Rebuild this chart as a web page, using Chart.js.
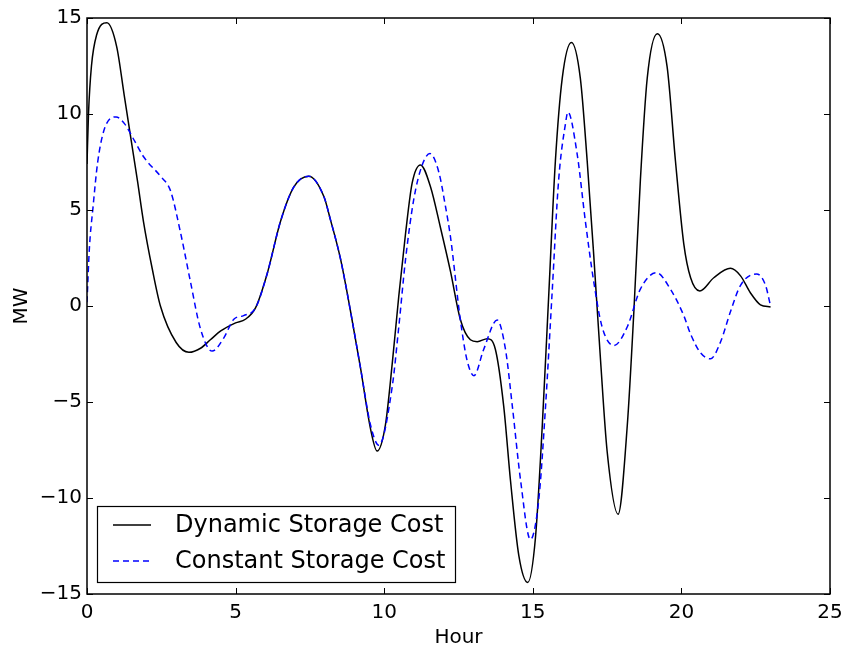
<!DOCTYPE html>
<html>
<head>
<meta charset="utf-8">
<title>Storage cost</title>
<script src="https://cdn.jsdelivr.net/npm/chart.js@4"></script>
<style>
    body { margin: 0; background: #fff; }
    #wrap { width: 845px; height: 650px; }
</style>
</head>
<body>
<div id="wrap"><canvas id="mwChart" width="845" height="650"></canvas></div>
<script>
// values (hour, MW)
const dynamicHours = [0, 0.05, 0.15, 0.32, 0.67, 1.0, 1.25, 1.5, 1.7, 1.9, 2.2, 2.47, 3.0, 3.43, 3.82, 4.15, 4.5, 5.0, 5.33, 5.67,
    6.06, 6.51, 6.96, 7.46, 7.97, 8.19, 8.53, 8.87, 9.2, 9.54, 9.76, 10.04, 10.27, 10.49, 10.72, 10.94, 11.22, 11.56, 11.89,
    12.23, 12.56, 12.9, 13.13, 13.47, 13.74, 14.02, 14.25, 14.53, 14.83, 15.09, 15.32, 15.54, 15.76, 15.99, 16.3, 16.6,
    16.83, 17.05, 17.28, 17.5, 17.87, 18.18, 18.4, 18.62, 18.85, 19.19, 19.52, 19.8, 20.08, 20.31, 20.62, 21.09, 21.65,
    21.99, 22.32, 22.66, 23.0];
const dynamicMW = [7.4, 10.0, 12.5, 14.1, 14.75, 13.5, 11.0, 8.5, 6.5, 4.4, 1.9, 0.0, -1.9, -2.41, -2.2, -1.76, -1.3, -0.88, -0.69, -0.1,
    1.67, 4.4, 6.2, 6.76, 5.7, 4.5, 2.45, -0.3, -3.2, -6.4, -7.55, -6.2, -3.0, 0.5, 3.8, 6.4, 7.35, 6.2, 4.1,
    1.8, -0.69, -1.76, -1.86, -1.7, -2.25, -5.2, -9.1, -13.0, -14.4, -12.06, -6.2, 0.69, 7.55, 11.86, 13.73, 11.86,
    7.55, 2.65, -2.84, -7.55, -10.84, -6.2, -0.3, 6.57, 11.86, 14.18, 12.45, 7.55, 3.24, 1.47, 0.78, 1.47, 1.96,
    1.57, 0.69, 0.06, -0.05];

const constantHours = [0, 0.08, 0.2, 0.36, 0.59, 0.98, 1.26, 1.6, 1.91, 2.47, 2.81, 3.15, 3.48, 3.82, 4.21, 4.6, 4.94, 5.27, 5.67,
    6.06, 6.51, 6.96, 7.46, 7.97, 8.19, 8.53, 8.87, 9.2, 9.54, 9.82, 10.27, 10.49, 10.72, 11.0, 11.28, 11.54, 11.84, 12.06,
    12.23, 12.56, 12.79, 13.02, 13.35, 13.8, 14.08, 14.31, 14.59, 14.92, 15.2, 15.43, 15.65, 15.87, 16.1, 16.18, 16.49,
    16.77, 17.05, 17.33, 17.73, 18.18, 18.62, 19.16, 19.63, 20.08, 20.31, 20.65, 20.98, 21.32, 21.65, 21.99, 22.53,
    22.83, 23.0];
const constantMW = [0.2, 3.0, 5.1, 7.5, 9.24, 9.85, 9.5, 8.6, 7.76, 6.76, 6.0, 3.8, 1.27, -1.2, -2.35, -1.67, -0.69, -0.5, -0.1,
    1.67, 4.4, 6.2, 6.76, 5.7, 4.5, 2.45, -0.3, -3.2, -6.2, -7.25, -4.2, -1.1, 2.45, 5.6, 7.35, 7.94, 6.96, 5.2,
    3.6, -0.69, -2.84, -3.63, -2.25, -0.73, -2.25, -5.2, -9.1, -12.16, -10.1, -5.2, 0.69, 6.57, 9.5, 10.1, 7.94,
    4.4, 1.27, -1.08, -2.06, -1.08, 0.88, 1.73, 0.88, -0.5, -1.47, -2.45, -2.75, -1.86, -0.3, 1.08, 1.67,
    1.08, 0.0];

const seriesNames = ['Dynamic Storage Cost', 'Constant Storage Cost'];
const xTicks = [0, 5, 10, 15, 20, 25];
const yTicks = [-15, -10, -5, 0, 5, 10, 15];

const FONT = 'DejaVu Sans';

function toPoints(xs, ys) {
    return xs.map((x, i) => ({ x: x, y: ys[i] }));
}

// matplotlib style frame with inward ticks on all four sides
const framePlugin = {
    id: 'frame',
    afterDatasetsDraw(chart) {
        const { ctx, chartArea: a, scales } = chart;
        const len = 6;
        ctx.save();
        ctx.strokeStyle = '#000';
        ctx.lineWidth = 1;
        xTicks.forEach(v => {
            const px = Math.round(scales.x.getPixelForValue(v)) + 0.5;
            ctx.beginPath();
            ctx.moveTo(px, a.bottom); ctx.lineTo(px, a.bottom - len);
            ctx.moveTo(px, a.top); ctx.lineTo(px, a.top + len);
            ctx.stroke();
        });
        yTicks.forEach(v => {
            const py = Math.round(scales.y.getPixelForValue(v)) + 0.5;
            ctx.beginPath();
            ctx.moveTo(a.left, py); ctx.lineTo(a.left + len, py);
            ctx.moveTo(a.right, py); ctx.lineTo(a.right - len, py);
            ctx.stroke();
        });
        ctx.lineWidth = 1.5;
        ctx.strokeRect(a.left, a.top, a.right - a.left, a.bottom - a.top);
        ctx.restore();
    }
};

// legend box in the lower left corner of the plot
const boxLegend = {
    id: 'boxLegend',
    afterDraw(chart) {
        const { ctx, chartArea: a } = chart;
        const x0 = a.left + 10, y0 = a.bottom - 88, w = 358, h = 76;
        ctx.save();
        ctx.fillStyle = '#fff';
        ctx.fillRect(x0, y0, w, h);
        ctx.strokeStyle = '#000';
        ctx.lineWidth = 1.2;
        ctx.strokeRect(x0 + 0.5, y0 + 0.5, w, h);
        chart.data.datasets.forEach((ds, i) => {
            const cy = y0 + 19 + i * 36;
            ctx.beginPath();
            ctx.strokeStyle = ds.borderColor;
            ctx.lineWidth = ds.borderWidth;
            ctx.setLineDash(ds.borderDash || []);
            ctx.moveTo(x0 + 16, cy);
            ctx.lineTo(x0 + 54, cy);
            ctx.stroke();
            ctx.setLineDash([]);
            ctx.fillStyle = '#000';
            ctx.font = '24px ' + FONT;
            ctx.textBaseline = 'middle';
            ctx.fillText(ds.label, x0 + 78, cy + 1);
        });
        ctx.restore();
    }
};

const minusSign = v => String(v).replace('-', '\u2212');

const chart = new Chart(document.getElementById('mwChart').getContext('2d'), {
    type: 'line',
    data: {
        datasets: [
            {
                label: seriesNames[0],
                data: toPoints(dynamicHours, dynamicMW),
                borderColor: '#000000',
                borderWidth: 1.5,
                order: 1
            },
            {
                label: seriesNames[1],
                data: toPoints(constantHours, constantMW),
                borderColor: '#0000ff',
                borderWidth: 1.5,
                borderDash: [6, 4],
                order: 0
            }
        ]
    },
    options: {
        responsive: false,
        animation: false,
        parsing: false,
        layout: { padding: { left: 0, right: 15, top: 18, bottom: 0 } },
        elements: {
            point: { radius: 0 },
            line: { cubicInterpolationMode: 'monotone', fill: false }
        },
        plugins: {
            legend: { display: false },
            tooltip: { enabled: false }
        },
        scales: {
            x: {
                type: 'linear',
                min: 0,
                max: 25,
                afterBuildTicks: s => { s.ticks = xTicks.map(v => ({ value: v })); },
                afterFit: s => { s.height = 56; s.paddingLeft = 0; s.paddingRight = 0; },
                grid: { display: false, drawTicks: false, tickLength: 0 },
                border: { display: false },
                ticks: {
                    color: '#000',
                    padding: 7,
                    maxRotation: 0,
                    font: { family: FONT, size: 20 },
                    callback: v => minusSign(v)
                },
                title: {
                    display: true,
                    text: 'Hour',
                    color: '#000',
                    padding: { top: 0, bottom: 0 },
                    font: { family: FONT, size: 20 }
                }
            },
            y: {
                type: 'linear',
                min: -15,
                max: 15,
                afterBuildTicks: s => { s.ticks = yTicks.map(v => ({ value: v })); },
                afterFit: s => { s.width = 87; s.paddingTop = 0; s.paddingBottom = 0; },
                grid: { display: false, drawTicks: false, tickLength: 0 },
                border: { display: false },
                ticks: {
                    color: '#000',
                    padding: 5,
                    font: { family: FONT, size: 20 },
                    callback: v => minusSign(v)
                },
                title: {
                    display: true,
                    text: 'MW',
                    color: '#000',
                    padding: { top: 10, bottom: 0 },
                    font: { family: FONT, size: 20 }
                }
            }
        }
    },
    plugins: [framePlugin, boxLegend]
});
</script>
</body>
</html>
